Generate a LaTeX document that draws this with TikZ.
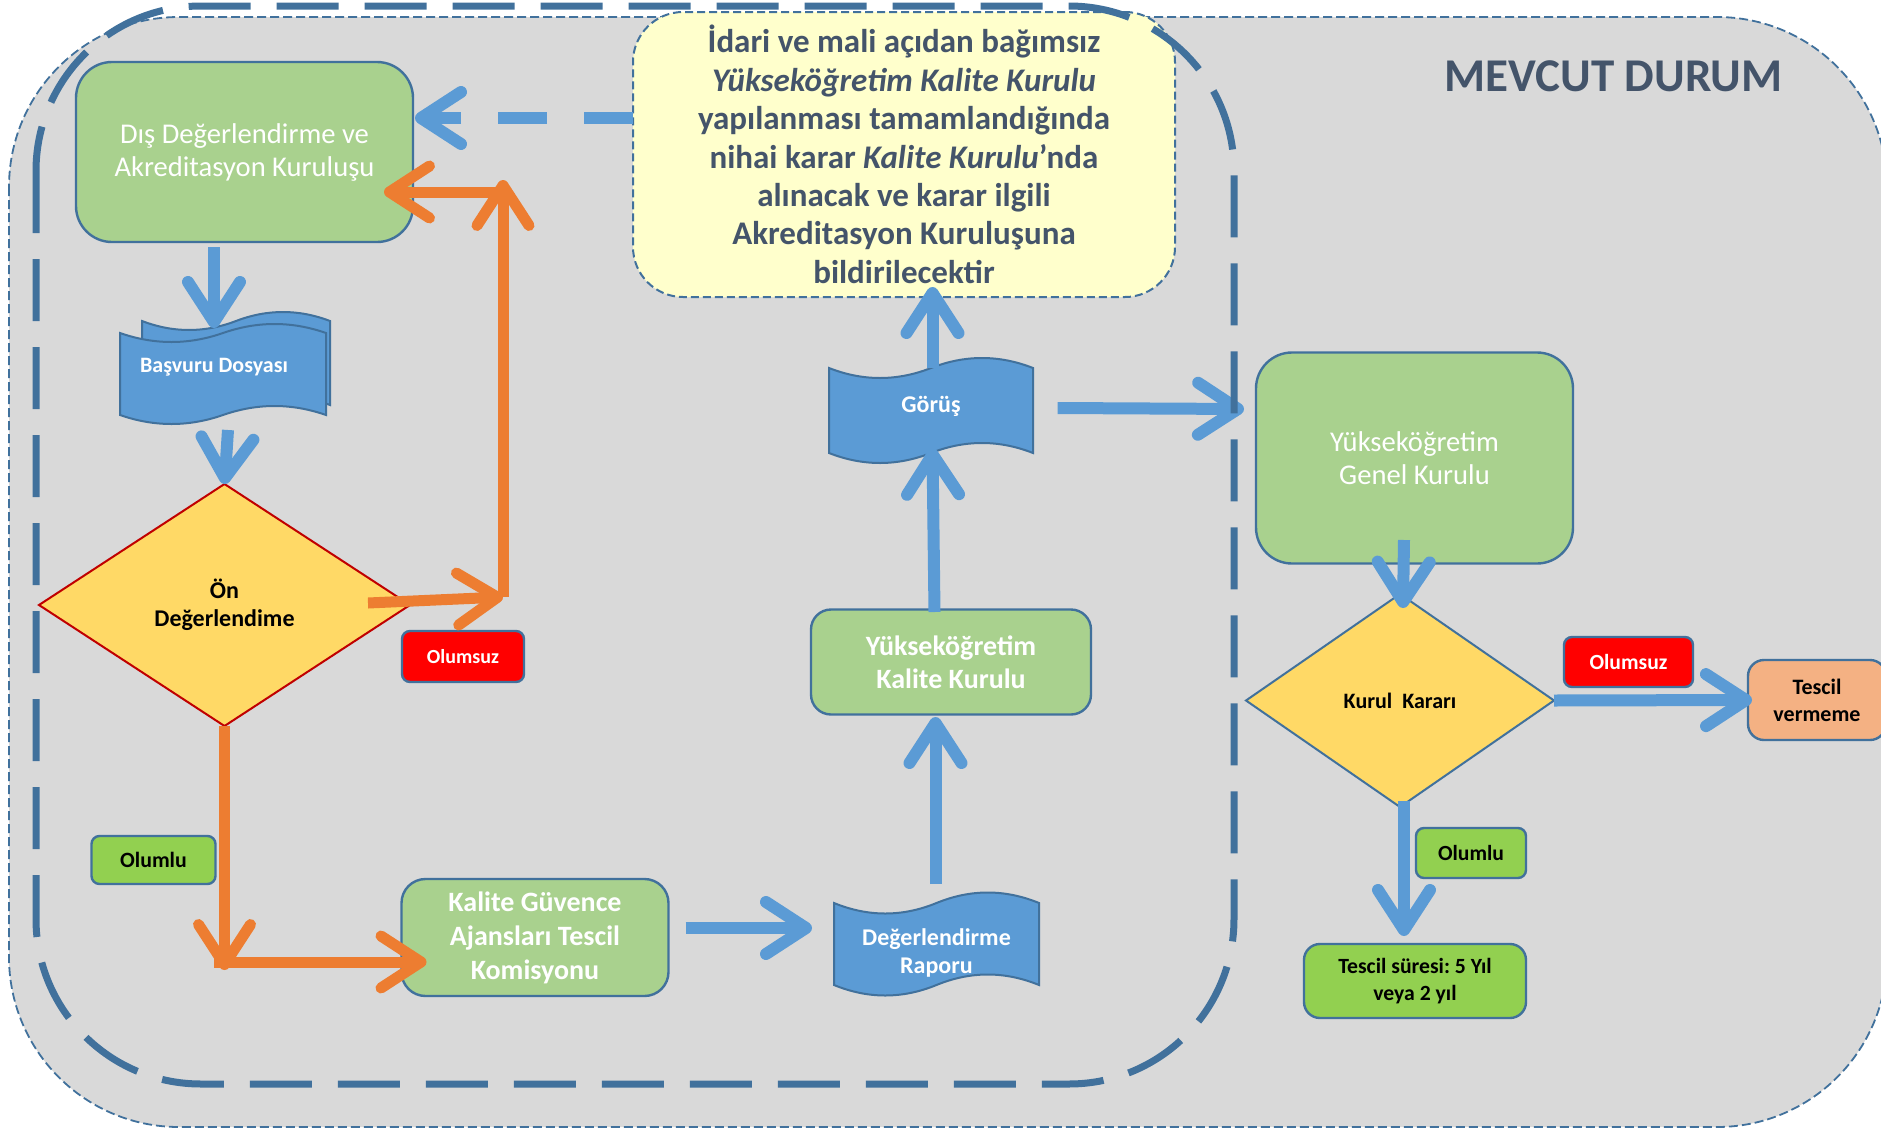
\documentclass[tikz,border=0pt]{standalone}
\usepackage{fontspec}
\setmainfont{Carlito}
\usetikzlibrary{arrows.meta,shapes.geometric,calc}
\frenchspacing

\definecolor{bgray}{HTML}{D9D9D9}
\definecolor{frm}{HTML}{41719C}
\definecolor{ablue}{HTML}{5B9BD5}
\definecolor{gboxfill}{HTML}{A9D18E}
\definecolor{lgreen}{HTML}{92D050}
\definecolor{callfill}{HTML}{FFFFCC}
\definecolor{diafill}{HTML}{FFD966}
\definecolor{orng}{HTML}{ED7D31}
\definecolor{salmon}{HTML}{F4B183}
\definecolor{txtdark}{HTML}{44546A}
\definecolor{dred}{HTML}{C00000}

% punched tape shape: x0,y0 (top base), x1,y1 (bottom base), amplitude
\newcommand\tapeshape[5]{%
  \pgfmathsetmacro\tpMx{(#1+#3)/2}%
  \pgfmathsetmacro\tpSx{(#3-#1)/6}%
  \pgfmathsetmacro\tpCa{4*#5/3}%
  \filldraw[tapefill] (#1,#2)
    .. controls ({#1+\tpSx},{#2+\tpCa}) and ({\tpMx-\tpSx},{#2+\tpCa}) .. (\tpMx,#2)
    .. controls ({\tpMx+\tpSx},{#2-\tpCa}) and ({#3-\tpSx},{#2-\tpCa}) .. (#3,#2)
    -- (#3,#4)
    .. controls ({#3-\tpSx},{#4-\tpCa}) and ({\tpMx+\tpSx},{#4-\tpCa}) .. (\tpMx,#4)
    .. controls ({\tpMx-\tpSx},{#4+\tpCa}) and ({#1+\tpSx},{#4+\tpCa}) .. (#1,#4) -- cycle;%
}

\tikzset{
  every node/.style={inner sep=0pt, outer sep=0pt, align=center},
  gbox/.style={rectangle, draw=frm, line width=1.2pt, fill=gboxfill, text=white},
  smallbox/.style={rectangle, rounded corners=4pt, draw=frm, line width=1.2pt},
  tapefill/.style={fill=ablue, draw=frm, line width=1pt},
  tapetxt/.style={text=white, font=\bfseries\fontsize{12pt}{14pt}\selectfont},
  decision/.style={diamond, fill=diafill, line width=1pt, font=\bfseries\fontsize{12pt}{14pt}\selectfont},
  blarr/.style={draw=ablue, line width=6pt, -{Straight Barb[length=20pt,width=26pt,round]}},
  orarr/.style={draw=orng, line width=5.5pt, -{Straight Barb[length=20pt,width=26pt,round]}},
}

\begin{document}
\begin{tikzpicture}[x=0.5pt,y=-0.5pt]
\useasboundingbox (0,0) rectangle (1881,1130);

% outer grey panel
\path[fill=bgray, draw=frm, line width=0.9pt, dash pattern=on 4.5pt off 2pt, rounded corners=85pt]
  (9,17) rectangle (1887,1127);

% title
\node[font=\bfseries\fontsize{23.5pt}{28pt}\selectfont, text=txtdark] (title) at (1613.5,76) {MEVCUT DURUM};

% callout
\node[rectangle, rounded corners=25pt, fill=callfill, draw=frm, line width=1pt,
      dash pattern=on 4pt off 2pt, minimum width=271pt, minimum height=142.5pt,
      text=txtdark, font=\bfseries\fontsize{16.5pt}{19.2pt}\selectfont] (callout) at (904,154.5)
  {İdari ve mali açıdan bağımsız\\
   \textit{Yükseköğretim Kalite Kurulu}\\
   yapılanması tamamlandığında\\
   nihai karar \textit{Kalite Kurulu}’nda\\
   alınacak ve karar ilgili\\
   Akreditasyon Kuruluşuna\\
   bildirilecektir};

% green process boxes
\node[gbox, rounded corners=18pt, minimum width=168.5pt, minimum height=90pt,
      font=\fontsize{14.3pt}{16.5pt}\selectfont] (dis) at (244.5,152)
  {Dış Değerlendirme ve\\Akreditasyon Kuruluşu};
\node[gbox, rounded corners=18pt, minimum width=158.5pt, minimum height=105.5pt,
      font=\fontsize{14.3pt}{16.5pt}\selectfont] (genel) at (1414.5,458)
  {Yükseköğretim\\Genel Kurulu};
\node[gbox, rounded corners=10pt, minimum width=140pt, minimum height=52.5pt,
      font=\bfseries\fontsize{14pt}{16.5pt}\selectfont] (ykk) at (951,662)
  {Yükseköğretim\\Kalite Kurulu};
\node[gbox, rounded corners=12pt, minimum width=133.5pt, minimum height=58.5pt,
      font=\bfseries\fontsize{14pt}{17pt}\selectfont] (kgc) at (535,937.5)
  {Kalite Güvence\\Ajansları Tescil\\Komisyonu};

% tapes
\tapeshape{142}{321}{330}{405}{9}
\tapeshape{120}{333}{326}{415}{9}
\node[tapetxt, font=\bfseries\fontsize{11pt}{13pt}\selectfont, minimum width=103pt, minimum height=41pt] (basvuru) at (214,367) {Başvuru Dosyası};
\tapeshape{829}{368}{1033}{453}{10}
\node[tapetxt, minimum width=102pt, minimum height=42.5pt] (gorus) at (931,406) {Görüş};
\tapeshape{834}{903}{1039}{985}{10.5}
\node[tapetxt, minimum width=102.5pt, minimum height=41pt] (raporu) at (936.5,953) {Değerlendirme\\Raporu};

% decisions
\node[decision, draw=dred, minimum width=185.5pt, minimum height=121pt] (on) at (224.5,605) {Ön\\Değerlendime};
\node[decision, draw=frm, font=\bfseries\fontsize{11pt}{13pt}\selectfont, minimum width=154pt, minimum height=106.5pt] (kurul) at (1400,700.5) {Kurul~ Kararı};

% small labels
\node[smallbox, fill=red, text=white, font=\bfseries\fontsize{10pt}{12pt}\selectfont, minimum width=61pt, minimum height=25.5pt] (olumsuza) at (463,656.5) {Olumsuz};
\node[smallbox, fill=lgreen, font=\bfseries\fontsize{10.9pt}{13pt}\selectfont, minimum width=62pt, minimum height=24pt] (olumlua) at (153.5,860) {Olumlu};
\node[smallbox, fill=red, text=white, font=\bfseries\fontsize{10.8pt}{13pt}\selectfont, minimum width=64.5pt, minimum height=25pt] (olumsuzb) at (1628.5,662) {Olumsuz};
\node[smallbox, fill=lgreen, font=\bfseries\fontsize{10.8pt}{13pt}\selectfont, minimum width=55pt, minimum height=25pt] (olumlub) at (1471,853) {Olumlu};
\node[smallbox, rounded corners=8pt, fill=salmon, font=\bfseries\fontsize{11pt}{13.5pt}\selectfont, minimum width=69pt, minimum height=40pt] (tescilv) at (1817,700) {Tescil\\vermeme};
\node[smallbox, rounded corners=8pt, fill=lgreen, font=\bfseries\fontsize{10.85pt}{13.5pt}\selectfont, minimum width=111pt, minimum height=37pt] (tescils) at (1415,981) {Tescil süresi: 5 Yıl\\veya 2 yıl};

% bend points of orange connectors
\coordinate (c1) at (224.5,970);
\coordinate (c1b) at (214,962);
\coordinate (c2) at (503,597);
\coordinate (c3) at (503,180);
\coordinate (c3b) at (503,192);

% blue connectors
\draw[blarr, dash pattern=on 24.5pt off 18.5pt] ([yshift=18.25pt]callout.west) -- ([xshift=1pt,yshift=17pt]dis.east);
\draw[blarr] ([xshift=-15.25pt,yshift=-2.5pt]dis.south) -- ([yshift=-1pt]basvuru.north);
\draw[blarr] ([xshift=7pt,yshift=-11pt]basvuru.south) -- (on.north);
\draw[blarr] ([xshift=-0.5pt,yshift=14pt]raporu.north) -- ([xshift=-7.75pt,yshift=-1.25pt]ykk.south);
\draw[blarr] ([xshift=-8.25pt,yshift=-1.25pt]ykk.north) -- ([xshift=0.75pt]gorus.south);
\draw[blarr] ([xshift=0.75pt,yshift=-2.25pt]gorus.north) -- ([xshift=14.25pt,yshift=5pt]callout.south);
\draw[blarr] ([xshift=12.3pt,yshift=-1pt]gorus.east) -- ([xshift=-6pt,yshift=24.5pt]genel.west);
\draw[blarr] ([xshift=8.5pt,yshift=4.75pt]kgc.east) -- ([xshift=-11pt,yshift=12.5pt]raporu.west);
\draw[blarr] ([xshift=-5.25pt,yshift=11.75pt]genel.south) -- ([xshift=1.5pt,yshift=-7pt]kurul.north);
\draw[blarr] (kurul.east) -- ([xshift=2pt]tescilv.west);
\draw[blarr] ([xshift=2pt,yshift=3pt]kurul.south) -- ([xshift=-5.5pt,yshift=4pt]tescils.north);

% orange connectors
\draw[orarr] (on.south) -- (c1);
\draw[orarr] (c1b) -- ([xshift=12.5pt,yshift=-12.25pt]kgc.west);
\draw[orarr] ([xshift=-21pt,yshift=1pt]on.east) -- (c2);
\draw[orarr] (c2) -- (c3);
\draw[orarr] (c3b) -- ([xshift=-14.5pt,yshift=-20pt]dis.east);

% inner dashed frame
\draw[frm, line width=3.5pt, dash pattern=on 31pt off 13pt, rounded corners=82.5pt]
  (36,6) rectangle (1234,1084);
\end{tikzpicture}
\end{document}
